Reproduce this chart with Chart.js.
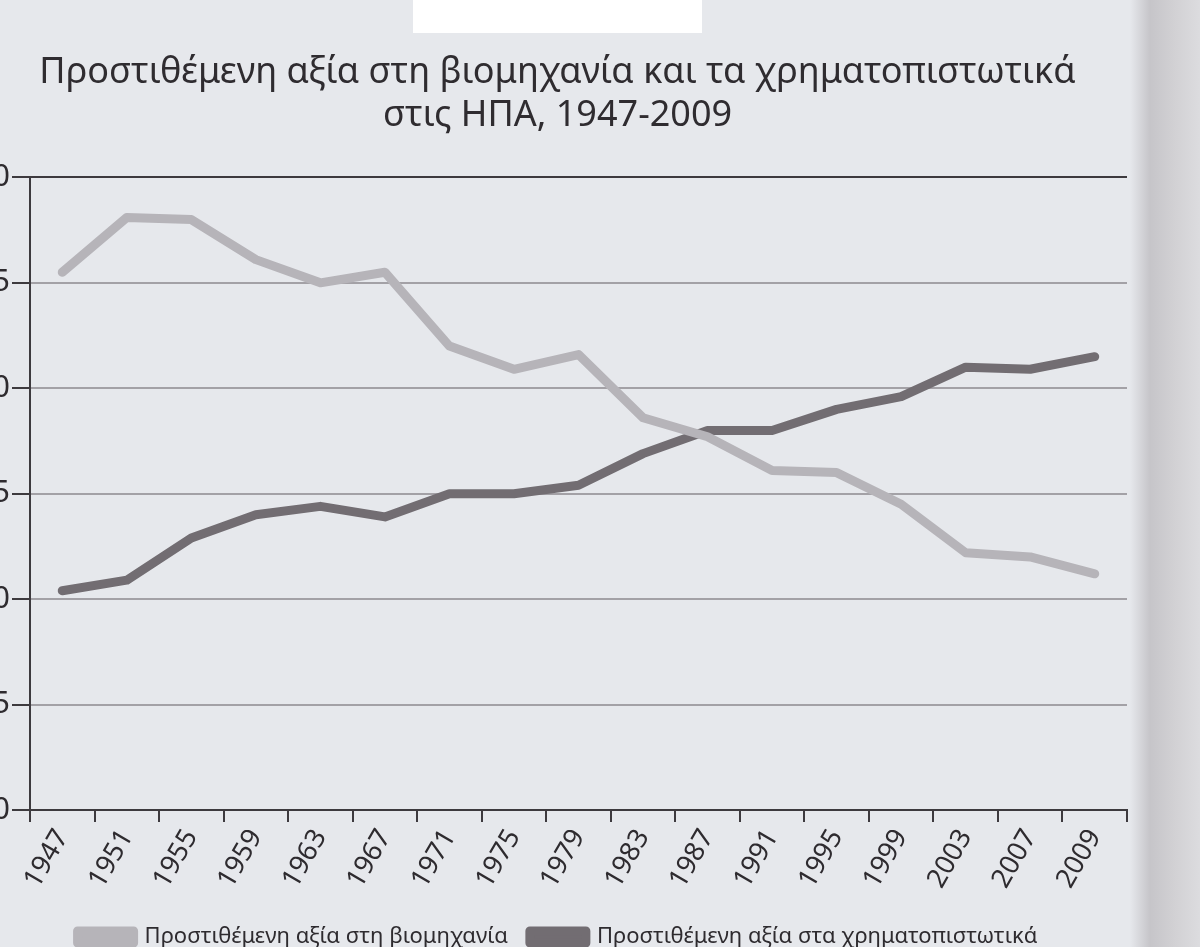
<!DOCTYPE html>
<html>
<head>
<meta charset="utf-8">
<script src="https://cdn.jsdelivr.net/npm/chart.js@4/dist/chart.umd.min.js"></script>
<style>
  html, body { margin: 0; padding: 0; }
  body {
    width: 1200px; height: 947px; overflow: hidden; position: relative;
    background: linear-gradient(to right, #e6e8ec 0px, #e6e8ec 1130px, #c6c5c9 1150px, #d2d1d4 1175px, #dcdcdf 1200px);
  }
  #wrap { position: absolute; left: -40px; top: 0; width: 1190px; height: 958px; }
  #patch { position: absolute; left: 413px; top: 0; width: 289px; height: 33px; background: #ffffff; }
</style>
</head>
<body>
<div id="wrap"><canvas id="myChart"></canvas></div>
<div id="patch"></div>
<script>
var years = ['1947', '1951', '1955', '1959', '1963', '1967', '1971', '1975', '1979',
             '1983', '1987', '1991', '1995', '1999', '2003', '2007', '2009'];
var industry = [25.5, 28.1, 28.0, 26.1, 25.0, 25.5, 22.0, 20.9, 21.6,
                18.6, 17.7, 16.1, 16.0, 14.5, 12.2, 12.0, 11.2];
var finance = [10.4, 10.9, 12.9, 14.0, 14.4, 13.9, 15.0, 15.0, 15.4,
               16.9, 18.0, 18.0, 19.0, 19.6, 21.0, 20.9, 21.5];
var yTicks = [0, 5, 10, 15, 20, 25, 30];

var fontFamily = "'Noto Sans', 'DejaVu Sans', sans-serif";

document.addEventListener('DOMContentLoaded', function() {
  var data = {
    labels: years,
    datasets: [{
      label: 'Προστιθέμενη αξία στη βιομηχανία',
      data: industry,
      borderColor: '#b6b4b9',
      backgroundColor: '#b6b4b9',
      borderWidth: 9,
      borderCapStyle: 'round',
      borderJoinStyle: 'round',
      pointRadius: 0,
      tension: 0
    },
    {
      label: 'Προστιθέμενη αξία στα χρηματοπιστωτικά',
      data: finance,
      borderColor: '#726d72',
      backgroundColor: '#726d72',
      borderWidth: 9,
      borderCapStyle: 'round',
      borderJoinStyle: 'round',
      pointRadius: 0,
      tension: 0
    }]
  };

  var options = {
    responsive: true,
    maintainAspectRatio: false,
    animation: false,
    layout: { padding: { left: 28, right: 23, top: 0, bottom: 0 } },
    scales: {
      x: {
        offset: true,
        afterFit: function(axis) { axis.height = 94; },
        grid: { display: true, drawOnChartArea: false, color: '#3d3a3e', lineWidth: 2, tickLength: 12, offset: true },
        border: { display: true, color: '#3d3a3e', width: 2 },
        ticks: {
          color: '#2e2b2f',
          font: { family: fontFamily, size: 27 },
          minRotation: 60, maxRotation: 60,
          autoSkip: false,
          padding: 2
        }
      },
      y: {
        min: 0, max: 30,
        afterBuildTicks: function(axis) {
          axis.ticks = yTicks.map(function(v) { return { value: v }; });
        },
        afterFit: function(axis) { axis.width = 42; },
        grid: {
          color: function(ctx) { return ctx.tick && ctx.tick.value === 30 ? '#3d3a3e' : '#a3a1a6'; },
          lineWidth: 2,
          tickLength: 18,
          tickColor: '#3d3a3e'
        },
        border: { display: true, color: '#3d3a3e', width: 2 },
        ticks: {
          color: '#2e2b2f',
          font: { family: fontFamily, size: 30 },
          padding: 2
        }
      }
    },
    plugins: {
      title: {
        display: true,
        text: ['Προστιθέμενη αξία στη βιομηχανία και τα χρηματοπιστωτικά', 'στις ΗΠΑ, 1947-2009'],
        color: '#2f2c30',
        font: { family: fontFamily, size: 36, weight: 'normal', lineHeight: 1.2 },
        padding: { top: 51, bottom: 40 }
      },
      legend: {
        position: 'bottom',
        labels: {
          color: '#2e2b2f',
          font: { family: fontFamily, size: 22 },
          boxWidth: 56,
          boxHeight: 12,
          padding: 22
        }
      },
      tooltip: { enabled: false }
    }
  };

  var ctx = document.getElementById('myChart').getContext('2d');
  var myChart = new Chart(ctx, {
    type: 'line',
    data: data,
    options: options
  });
});
</script>
</body>
</html>
